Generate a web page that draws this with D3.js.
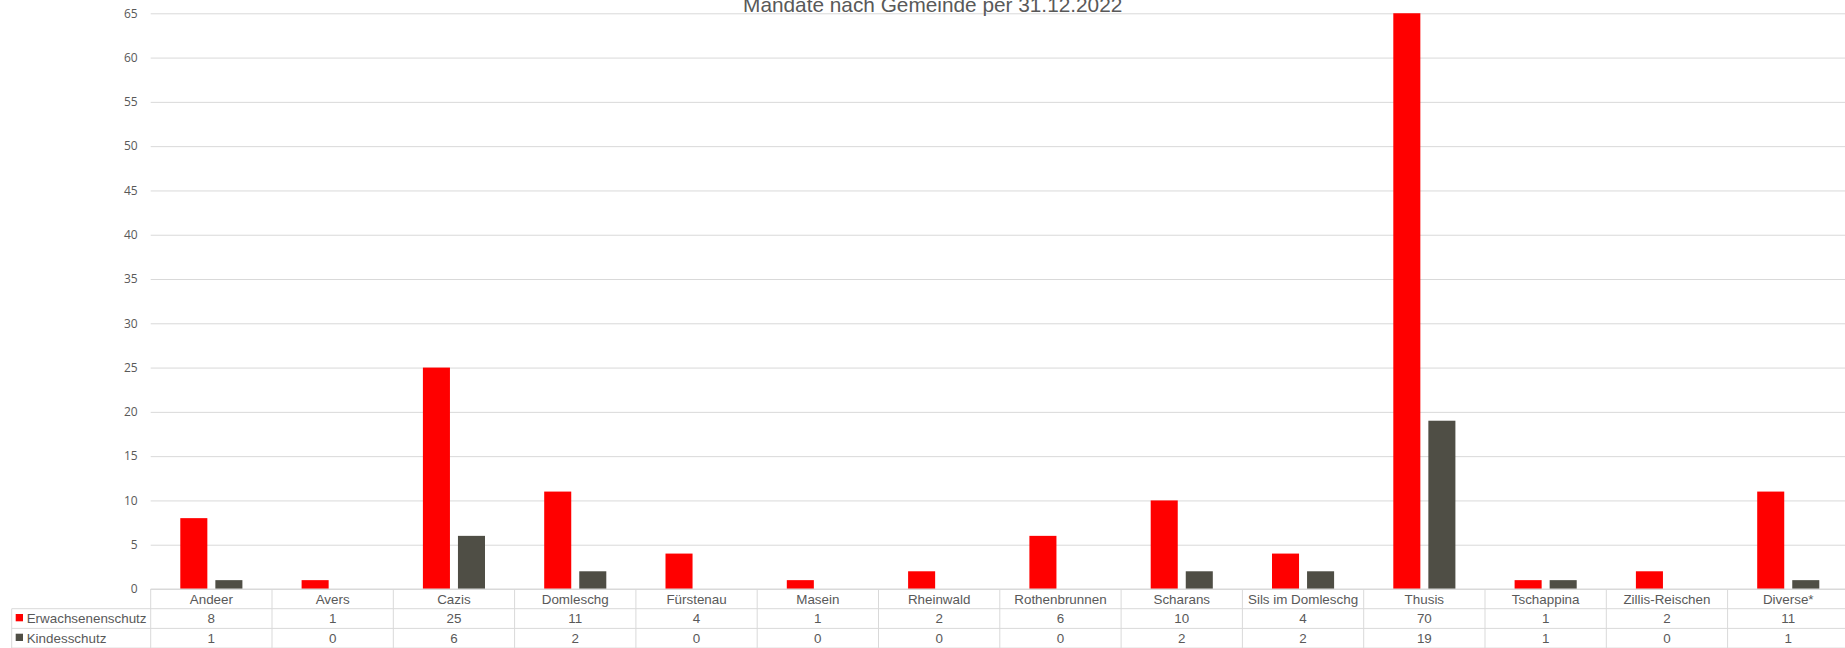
<!DOCTYPE html>
<html>
<head>
<meta charset="utf-8">
<script src="https://cdn.jsdelivr.net/npm/d3@7"></script>
<style>
  body { margin: 0; background: #fff; }
  svg { display: block; }
  .tick text { font-family: "Open Sans", sans-serif; font-size: 12px; fill: #595959; }
  .cellText { font-family: "Liberation Sans", Arial, sans-serif; font-size: 13.4px; fill: #595959; }
</style>
</head>
<body>
<svg id="chart" width="1845" height="648"></svg>
<script>
// data
const gemeinden = ["Andeer", "Avers", "Cazis", "Domleschg", "Fürstenau", "Masein", "Rheinwald",
  "Rothenbrunnen", "Scharans", "Sils im Domleschg", "Thusis", "Tschappina", "Zillis-Reischen", "Diverse*"];
const serien = ["Erwachsenenschutz", "Kindesschutz"];
const erwachsenenschutz = [8, 1, 25, 11, 4, 1, 2, 6, 10, 4, 70, 1, 2, 11];
const kindesschutz = [1, 0, 6, 2, 0, 0, 0, 0, 2, 2, 19, 1, 0, 1];
const yTicks = [0, 5, 10, 15, 20, 25, 30, 35, 40, 45, 50, 55, 60, 65];
const titel = "Mandate nach Gemeinde per 31.12.2022";

const colors = { Erwachsenenschutz: "#ff0000", Kindesschutz: "#4f4e45" };
const gridColor = "#d9d9d9";

const svg = d3.select("#chart");

// plot area
const plotLeft = 150.7;
const bandStep = 121.3;
const plotRight = plotLeft + bandStep * gemeinden.length;
const plotTop = 13.3;
const plotBottom = 589;
const rowH = 19.7;
const legendLeft = 11.7;

const x = d3.scaleBand().domain(gemeinden).range([plotLeft, plotRight]).padding(0);
const x1 = d3.scaleBand().domain(serien).range([29.6, 91.7]).paddingInner(8 / 35);
const y = d3.scaleLinear().domain([0, 65]).range([plotBottom, plotTop]);

// grid + y labels
const yAxis = d3.axisLeft(y)
  .tickValues(yTicks)
  .tickSize(-(plotRight - plotLeft))
  .tickPadding(13)
  .tickFormat(d3.format("d"));

const gAxis = svg.append("g")
  .attr("transform", `translate(${plotLeft},0)`)
  .call(yAxis);
gAxis.select(".domain").remove();
gAxis.selectAll(".tick line").attr("stroke", gridColor).attr("stroke-width", 1);

// title (cut at the top edge, as in the original)
svg.append("text")
  .attr("x", 932.7)
  .attr("y", 11.5)
  .attr("text-anchor", "middle")
  .style("font-family", "Liberation Sans, Arial, sans-serif")
  .style("font-size", "20.8px")
  .style("fill", "#595959")
  .text(titel);

// bars
svg.append("clipPath").attr("id", "plotClip")
  .append("rect")
  .attr("x", plotLeft)
  .attr("y", plotTop)
  .attr("width", plotRight - plotLeft)
  .attr("height", plotBottom - plotTop);

const seriesValues = { Erwachsenenschutz: erwachsenenschutz, Kindesschutz: kindesschutz };
const barData = [];
gemeinden.forEach((g, i) => {
  serien.forEach((s) => {
    barData.push({ gemeinde: g, serie: s, value: seriesValues[s][i] });
  });
});

svg.append("g")
  .attr("clip-path", "url(#plotClip)")
  .selectAll("rect")
  .data(barData.filter((d) => d.value > 0))
  .join("rect")
  .attr("x", (d) => x(d.gemeinde) + x1(d.serie))
  .attr("y", (d) => y(d.value))
  .attr("width", x1.bandwidth())
  .attr("height", (d) => plotBottom - y(d.value))
  .attr("fill", (d) => colors[d.serie]);

// data table
const table = svg.append("g");
const rows = [plotBottom, plotBottom + rowH, plotBottom + rowH * 2, plotBottom + rowH * 3];

// horizontal lines
table.append("line")
  .attr("x1", plotLeft).attr("x2", plotRight)
  .attr("y1", rows[0]).attr("y2", rows[0]);
[rows[1], rows[2], rows[3]].forEach((ry) => {
  table.append("line")
    .attr("x1", legendLeft).attr("x2", plotRight)
    .attr("y1", ry).attr("y2", ry);
});
// vertical lines
gemeinden.forEach((g) => {
  table.append("line")
    .attr("x1", x(g)).attr("x2", x(g))
    .attr("y1", rows[0]).attr("y2", rows[3]);
});
table.append("line")
  .attr("x1", plotRight).attr("x2", plotRight)
  .attr("y1", rows[0]).attr("y2", rows[3]);
table.append("line")
  .attr("x1", legendLeft).attr("x2", legendLeft)
  .attr("y1", rows[1]).attr("y2", rows[3]);
table.selectAll("line").attr("stroke", gridColor).attr("stroke-width", 1);

// header row
table.selectAll(".hdr")
  .data(gemeinden)
  .join("text")
  .attr("class", "cellText hdr")
  .attr("x", (d) => x(d) + x.bandwidth() / 2)
  .attr("y", rows[0] + 15)
  .attr("text-anchor", "middle")
  .text((d) => d);

// value rows + legend keys
serien.forEach((s, r) => {
  const top = rows[r + 1];
  table.append("rect")
    .attr("x", 15.7)
    .attr("y", top + 5.3)
    .attr("width", 7.3)
    .attr("height", 7.3)
    .attr("fill", colors[s]);
  table.append("text")
    .attr("class", "cellText")
    .attr("x", 26.7)
    .attr("y", top + 14.7)
    .text(s);
  table.selectAll(".val" + r)
    .data(seriesValues[s])
    .join("text")
    .attr("class", "cellText val" + r)
    .attr("x", (d, i) => x(gemeinden[i]) + x.bandwidth() / 2)
    .attr("y", top + 14.7)
    .attr("text-anchor", "middle")
    .text((d) => d);
});
</script>
</body>
</html>
